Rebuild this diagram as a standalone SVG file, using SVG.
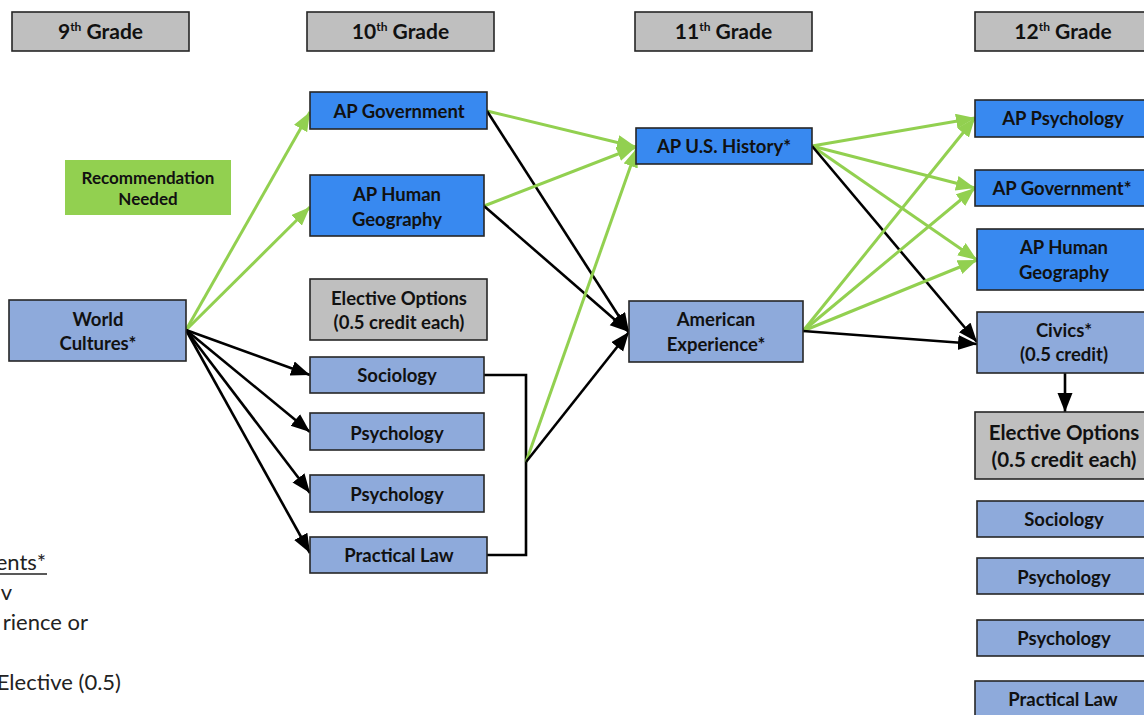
<svg xmlns="http://www.w3.org/2000/svg" width="1144" height="715" viewBox="0 0 1144 715">
<style>
.box{stroke:#262626;stroke-width:1.6}
.hdr{fill:#bfbfbf}
.ap{fill:#3889f0}
.lb{fill:#8eaadb}
.gr{fill:#bfbfbf}
.rec{fill:#92d050;stroke:none}
text{font-family:Lato,"Open Sans","Liberation Sans",sans-serif;font-weight:bold;fill:#111;text-anchor:middle}
.h{font-size:21px}
.t{font-size:18.5px}
.t2{font-size:20.5px}
.r{font-size:17px}
.leg{font-weight:normal;font-size:22px;text-anchor:end;fill:#222}
.g{stroke:#92d050;stroke-width:3;fill:none;marker-end:url(#ag)}
.k{stroke:#000;stroke-width:2.6;fill:none;marker-end:url(#ak)}
.kl{stroke:#000;stroke-width:2.6;fill:none}
</style>
<defs>
<marker id="ag" markerUnits="userSpaceOnUse" markerWidth="20" markerHeight="16" refX="19" refY="7.5" orient="auto"><path d="M0,0 L19,7.5 L0,15 z" fill="#92d050"/></marker>
<marker id="ak" markerUnits="userSpaceOnUse" markerWidth="20" markerHeight="16" refX="19" refY="7.5" orient="auto"><path d="M0,0 L19,7.5 L0,15 z" fill="#000"/></marker>
</defs>
<rect width="1144" height="715" fill="#fff"/>

<g id="connectors">
<line class="g" x1="186" y1="330" x2="310" y2="112"/>
<line class="g" x1="186" y1="330" x2="310" y2="207"/>
<line class="k" x1="186" y1="330" x2="310" y2="375"/>
<line class="k" x1="186" y1="330" x2="310" y2="432"/>
<line class="k" x1="186" y1="330" x2="310" y2="493"/>
<line class="k" x1="186" y1="330" x2="310" y2="553"/>
<line class="g" x1="487" y1="111" x2="636" y2="147"/>
<line class="k" x1="487" y1="111" x2="629" y2="332"/>
<line class="g" x1="484" y1="206" x2="636" y2="147"/>
<line class="k" x1="484" y1="206" x2="629" y2="332"/>
<polyline class="kl" points="484,375 526,375 526,555 487,555"/>
<line class="g" x1="526" y1="462" x2="637" y2="148"/>
<line class="k" x1="526" y1="462" x2="629" y2="332"/>
<line class="g" x1="812" y1="146" x2="975" y2="118"/>
<line class="g" x1="812" y1="146" x2="975" y2="188"/>
<line class="g" x1="812" y1="146" x2="977" y2="260"/>
<line class="k" x1="812" y1="146" x2="977" y2="342"/>
<line class="g" x1="803" y1="331" x2="975" y2="118"/>
<line class="g" x1="803" y1="331" x2="975" y2="188"/>
<line class="g" x1="803" y1="331" x2="977" y2="260"/>
<line class="k" x1="803" y1="331" x2="977" y2="344"/>
<line class="k" x1="1065" y1="373" x2="1065" y2="412"/>
</g>

<g id="h9"><rect class="box hdr" x="12" y="12" width="177" height="39"/><text class="h" x="100.5" y="39">9<tspan font-size="12" dy="-8">th</tspan><tspan dy="8"> Grade</tspan></text></g>
<g id="h10"><rect class="box hdr" x="307" y="12" width="187" height="39"/><text class="h" x="400.5" y="39">10<tspan font-size="12" dy="-8">th</tspan><tspan dy="8"> Grade</tspan></text></g>
<g id="h11"><rect class="box hdr" x="635" y="12" width="177" height="39"/><text class="h" x="723.5" y="39">11<tspan font-size="12" dy="-8">th</tspan><tspan dy="8"> Grade</tspan></text></g>
<g id="h12"><rect class="box hdr" x="975" y="12" width="180" height="39"/><text class="h" x="1063" y="39">12<tspan font-size="12" dy="-8">th</tspan><tspan dy="8"> Grade</tspan></text></g>

<g id="rec"><rect class="rec" x="65" y="160" width="166" height="55"/><text class="r" x="148" y="184">Recommendation</text><text class="r" x="148" y="205">Needed</text></g>

<g id="wc"><rect class="box lb" x="9" y="300" width="177" height="61"/><text class="t" x="98" y="326">World</text><text class="t" x="98" y="350">Cultures*</text></g>

<g id="apgov10"><rect class="box ap" x="310" y="92" width="177" height="37"/><text class="t" x="399" y="118">AP Government</text></g>
<g id="aphg10"><rect class="box ap" x="310" y="175" width="174" height="61"/><text class="t" x="397" y="201">AP Human</text><text class="t" x="397" y="226">Geography</text></g>
<g id="elec10"><rect class="box gr" x="310" y="279" width="177" height="61"/><text class="t" x="399" y="305">Elective Options</text><text class="t" x="399" y="329">(0.5 credit each)</text></g>
<g id="soc10"><rect class="box lb" x="310" y="357" width="174" height="36"/><text class="t" x="397" y="382">Sociology</text></g>
<g id="psy10a"><rect class="box lb" x="310" y="413" width="174" height="37"/><text class="t" x="397" y="440">Psychology</text></g>
<g id="psy10b"><rect class="box lb" x="310" y="475" width="174" height="37"/><text class="t" x="397" y="501">Psychology</text></g>
<g id="law10"><rect class="box lb" x="310" y="537" width="177" height="36"/><text class="t" x="399" y="562">Practical Law</text></g>

<g id="apush"><rect class="box ap" x="636" y="128" width="176" height="36"/><text class="t" x="724" y="153">AP U.S. History*</text></g>
<g id="amexp"><rect class="box lb" x="629" y="301" width="174" height="61"/><text class="t" x="716" y="326">American</text><text class="t" x="716" y="351">Experience*</text></g>

<g id="appsy12"><rect class="box ap" x="975" y="100" width="178" height="37"/><text class="t" x="1063" y="125">AP Psychology</text></g>
<g id="apgov12"><rect class="box ap" x="975" y="170" width="178" height="36"/><text class="t" x="1062" y="195">AP Government*</text></g>
<g id="aphg12"><rect class="box ap" x="977" y="229" width="176" height="61"/><text class="t" x="1064" y="254">AP Human</text><text class="t" x="1064" y="279">Geography</text></g>
<g id="civ12"><rect class="box lb" x="977" y="312" width="176" height="61"/><text class="t" x="1064" y="337">Civics*</text><text class="t" x="1064" y="361">(0.5 credit)</text></g>
<g id="elec12"><rect class="box gr" x="975" y="412" width="178" height="67"/><text class="t2" x="1064" y="440">Elective Options</text><text class="t2" x="1064" y="467">(0.5 credit each)</text></g>
<g id="soc12"><rect class="box lb" x="977" y="501" width="176" height="36"/><text class="t" x="1064" y="526">Sociology</text></g>
<g id="psy12a"><rect class="box lb" x="977" y="558" width="176" height="36"/><text class="t" x="1064" y="584">Psychology</text></g>
<g id="psy12b"><rect class="box lb" x="977" y="620" width="176" height="36"/><text class="t" x="1064" y="645">Psychology</text></g>
<g id="law12"><rect class="box lb" x="975" y="681" width="178" height="40"/><text class="t" x="1063" y="706">Practical Law</text></g>

<g id="legend">
<text class="leg" x="46" y="570">ents*</text>
<line x1="0" y1="574" x2="47" y2="574" stroke="#222" stroke-width="1.5"/>
<text class="leg" x="12" y="600">v</text>
<text class="leg" x="88" y="630">rience or</text>
<text class="leg" x="121" y="690">Elective (0.5)</text>
</g>
</svg>
